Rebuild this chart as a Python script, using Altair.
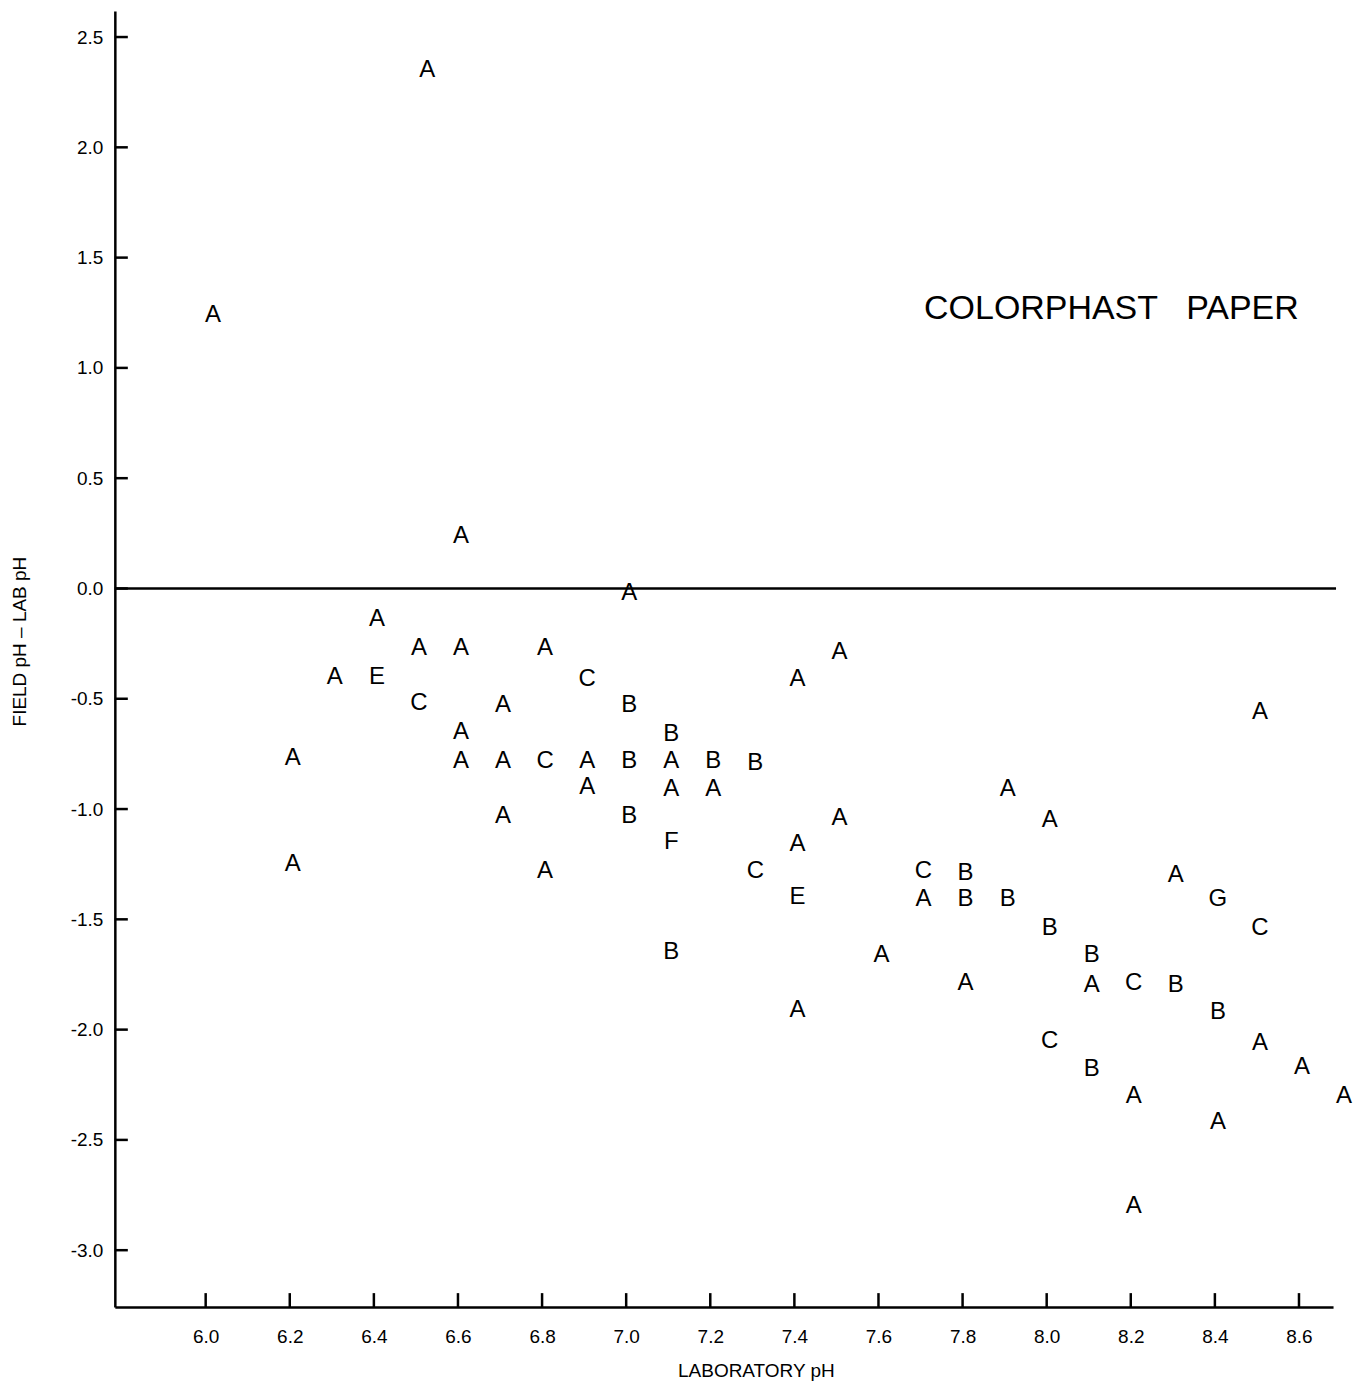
import altair as alt
import pandas as pd

lab_ph = [6.01, 6.52, 6.6, 7.0, 6.4, 6.5, 6.6, 6.8, 6.3, 6.4, 6.9, 6.5, 6.7, 7.0,
          7.4, 7.5, 6.6, 7.1, 6.2, 6.6, 6.7, 6.8, 6.9, 7.0, 7.1, 7.2, 7.3, 6.9,
          7.1, 7.2, 6.7, 7.0, 7.1, 7.4, 7.5, 6.2, 6.8, 7.3, 7.4, 7.1, 7.4, 7.6,
          7.9, 8.0, 7.7, 7.8, 7.7, 7.8, 7.9, 8.0, 7.8, 8.1, 8.1, 8.2, 8.3, 8.3,
          8.4, 8.5, 8.5, 8.4, 8.0, 8.5, 8.1, 8.6, 8.2, 8.7, 8.4, 8.2]
diff = [1.24, 2.35, 0.24, -0.02, -0.14, -0.27, -0.27, -0.27, -0.40, -0.40, -0.41,
        -0.52, -0.53, -0.53, -0.41, -0.29, -0.65, -0.66, -0.77, -0.78, -0.78,
        -0.78, -0.78, -0.78, -0.78, -0.78, -0.79, -0.90, -0.91, -0.91, -1.03,
        -1.03, -1.15, -1.16, -1.04, -1.25, -1.28, -1.28, -1.40, -1.65, -1.91,
        -1.66, -0.91, -1.05, -1.28, -1.29, -1.41, -1.41, -1.41, -1.54, -1.79,
        -1.66, -1.80, -1.79, -1.80, -1.30, -1.41, -1.54, -0.56, -1.92, -2.05,
        -2.06, -2.18, -2.17, -2.30, -2.30, -2.42, -2.80]
code = ["A", "A", "A", "A", "A", "A", "A", "A", "A", "E", "C", "C", "A", "B",
        "A", "A", "A", "B", "A", "A", "A", "C", "A", "B", "A", "B", "B", "A",
        "A", "A", "A", "B", "F", "A", "A", "A", "A", "C", "E", "B", "A", "A",
        "A", "A", "C", "B", "A", "B", "B", "B", "A", "B", "A", "C", "B", "A",
        "G", "C", "A", "B", "C", "A", "B", "A", "A", "A", "A", "A"]

x_ticks = [6.0, 6.2, 6.4, 6.6, 6.8, 7.0, 7.2, 7.4, 7.6, 7.8, 8.0, 8.2, 8.4, 8.6]
y_ticks = [-3.0, -2.5, -2.0, -1.5, -1.0, -0.5, 0.0, 0.5, 1.0, 1.5, 2.0, 2.5]
x_domain = [5.784, 8.681]
y_domain = [-3.258, 2.618]

label_text = ["COLORPHAST\u00a0\u00a0\u00a0PAPER"]
label_x = [8.154]
label_y = [1.268]

W, H = 1220, 1298
FONT = "Liberation Sans"

df = pd.DataFrame({"lab": lab_ph, "diff": diff, "code": code})
xt = pd.DataFrame({"lab": x_ticks})
yt = pd.DataFrame({"diff": y_ticks})
zdf = pd.DataFrame({"diff": [0.0]})
lab = pd.DataFrame({"text": label_text, "lab": label_x, "diff": label_y})

xscale = alt.Scale(domain=x_domain, nice=False, zero=False)
yscale = alt.Scale(domain=y_domain, nice=False, zero=False)

xaxis = alt.Axis(values=x_ticks, format=".1f", title="LABORATORY pH",
                 ticks=False, grid=False, domainColor="black", domainWidth=2.5,
                 labelFont=FONT, labelFontSize=19, labelColor="black",
                 labelPadding=20, titleFont=FONT, titleFontSize=19,
                 titleFontWeight="normal", titleColor="black",
                 titleX=642, titleY=64, titleAlign="center", titleBaseline="middle")
yaxis = alt.Axis(values=y_ticks, title="FIELD pH \u2013 LAB pH",
                 labelExpr="replace(format(datum.value, '.1f'), '\u2212', '-')",
                 ticks=False, grid=False, domainColor="black", domainWidth=2.5,
                 labelFont=FONT, labelFontSize=19, labelColor="black",
                 labelPadding=12, titleFont=FONT, titleFontSize=19,
                 titleFontWeight="normal", titleColor="black",
                 titleX=-95, titleY=631, titleAlign="center", titleBaseline="middle")

X = alt.X("lab:Q", scale=xscale, axis=xaxis)
Y = alt.Y("diff:Q", scale=yscale, axis=yaxis)

points = alt.Chart(df).mark_text(font=FONT, fontSize=24, color="black", dx=3,
                                 baseline="middle", align="center", clip=False).encode(
    x=X, y=Y, text="code:N",
)

zero = alt.Chart(zdf).mark_rule(color="black", strokeWidth=2.5).encode(
    y=Y, x=alt.value(0), x2=alt.value(W + 3),
)

xtick_marks = alt.Chart(xt).mark_rule(color="black", strokeWidth=2.5).encode(
    x=X, y=alt.value(H), y2=alt.value(H - 14),
)
ytick_marks = alt.Chart(yt).mark_rule(color="black", strokeWidth=2.5).encode(
    y=Y, x=alt.value(0), x2=alt.value(13),
)

title = alt.Chart(lab).mark_text(font=FONT, fontSize=34, color="black",
                                 baseline="middle", align="center").encode(
    x=X, y=Y, text="text:N",
)

chart = alt.layer(points, zero, xtick_marks, ytick_marks, title).properties(
    width=W, height=H,
    autosize=alt.AutoSizeParams(type="none"),
    padding={"left": 107, "top": 2, "right": 30, "bottom": 80},
).configure(background="white").configure_view(stroke=None)

chart.save("out.html", embed_options={"renderer": "svg", "actions": False})
